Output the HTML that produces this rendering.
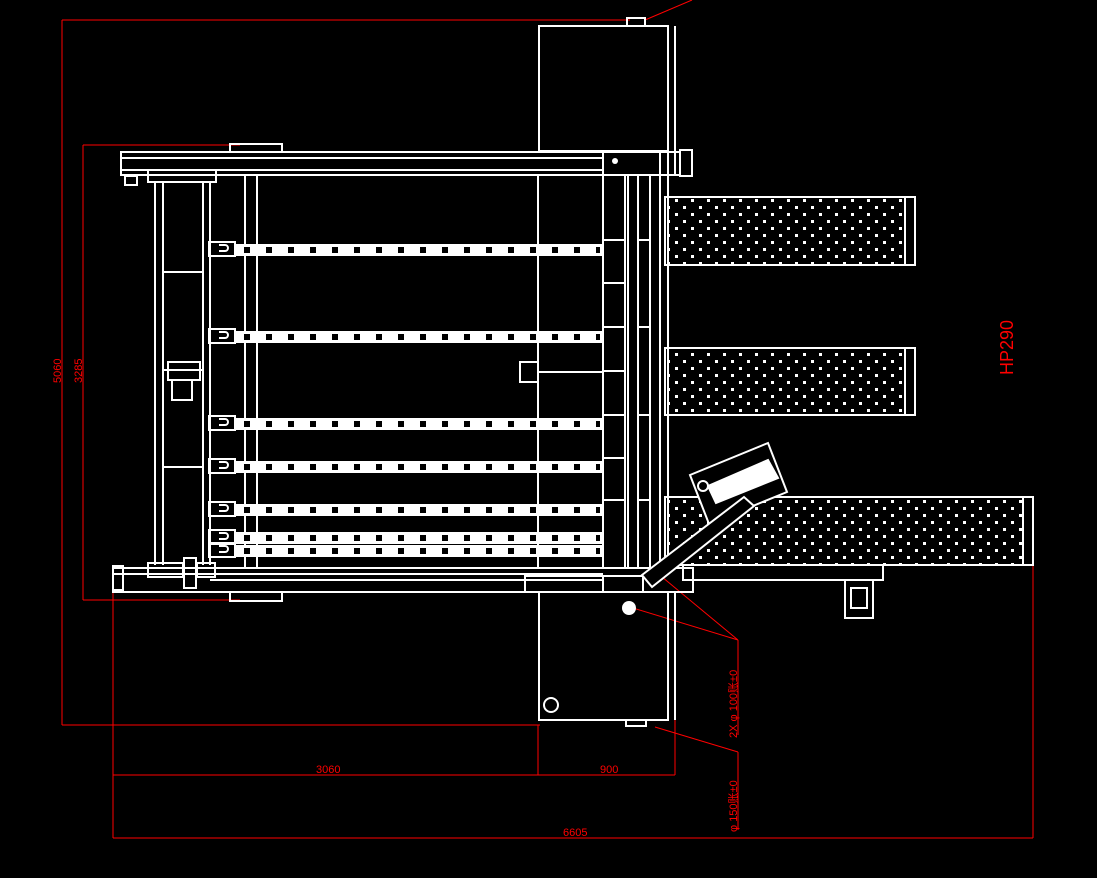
<!DOCTYPE html>
<html><head><meta charset="utf-8"><style>
html,body{margin:0;padding:0;background:#000;}
svg{display:block}
text{font-family:"Liberation Sans","Noto Sans CJK SC",sans-serif;fill:#f00}
</style></head><body>
<svg width="1097" height="878" viewBox="0 0 1097 878" xmlns="http://www.w3.org/2000/svg">
<defs>
<pattern id="dots" width="16" height="14" patternUnits="userSpaceOnUse">
<rect x="3" y="3" width="3" height="3" fill="#fff"/><rect x="11" y="10" width="3" height="3" fill="#fff"/>
</pattern>
<g id="rail">
<rect x="235" y="-6" width="368" height="12" fill="#fff"/>
<path d="M244 0 H600" stroke="#000" stroke-width="6" stroke-dasharray="6 16"/>
<rect x="209" y="-8" width="26" height="14" fill="none" stroke="#fff" stroke-width="2"/>
<path d="M219 -5 h6 a3 3 0 0 1 0 6 h-6" fill="none" stroke="#fff" stroke-width="2"/>
</g>
</defs>
<g fill="none" stroke="#f00" stroke-width="1" shape-rendering="crispEdges">
<path d="M62 20 H630 M62 20 V725 M62 725 H540 M83 145 H240 M83 145 V600 M83 600 H240"/>
<path d="M113 775 H675 M113 590 V838 M538 725 V775 M675 720 V775 M113 838 H1033 M1033 565 V838 M738 640 V735 M738 752 V830"/>
</g>
<path d="M645 20 L692 0 M633 608 L738 640 M650 567 L738 640 M655 727 L738 752" stroke="#f00" stroke-width="1" fill="none"/>
<text x="0" y="0" font-size="11" transform="translate(61,383) rotate(-90)">5060</text>
<text x="0" y="0" font-size="11" transform="translate(82,383) rotate(-90)">3285</text>
<text x="316" y="773" font-size="11">3060</text>
<text x="600" y="773" font-size="11">900</text>
<text x="563" y="836" font-size="11">6605</text>
<text x="0" y="0" font-size="11" transform="translate(737,738) rotate(-90)">2X φ 100账±0</text>
<text x="0" y="0" font-size="11" transform="translate(737,832) rotate(-90)">φ 150账±0</text>
<text x="0" y="0" font-size="18" transform="translate(1013,375) rotate(-90)">HP290</text>

<g fill="none" stroke="#fff" stroke-width="2">
<rect x="539" y="26" width="129" height="125"/>
<path d="M668 26 V175 M675 26 V175"/>
<rect x="627" y="18" width="18" height="8"/>
<rect x="121" y="152" width="482" height="23"/>
<path d="M121 158 H603 M121 170 H603"/>
<rect x="603" y="152" width="57" height="23"/>
<rect x="660" y="152" width="20" height="23"/>
<rect x="680" y="150" width="12" height="26"/>
<rect x="230" y="144" width="52" height="8"/>
<rect x="148" y="170" width="68" height="12"/>
<rect x="125" y="176" width="12" height="9"/>
<path d="M155 182 V565 M163 182 V565 M203 182 V565 M210 182 V565 M163 272 H203 M163 370 H203 M163 467 H203"/>
<rect x="168" y="362" width="32" height="18"/>
<rect x="172" y="380" width="20" height="20"/>
<path d="M245 175 V568 M257 175 V568 M538 175 V568"/>
<rect x="520" y="362" width="18" height="20"/>
<path d="M538 372 H603"/>
<rect x="603" y="175" width="22" height="393"/>
<rect x="628" y="175" width="10" height="393"/>
<rect x="638" y="175" width="12" height="393"/>
<path d="M660 175 V568 M668 175 V568"/>
<path d="M603 240 H625 M603 283 H625 M603 327 H625 M603 371 H625 M603 415 H625 M603 458 H625 M603 500 H625 M638 240 H650 M638 327 H650 M638 415 H650 M638 500 H650"/>
<rect x="113" y="568" width="580" height="24"/>
<path d="M113 574 H603 M210 580 H603"/>
<rect x="148" y="563" width="35" height="14"/>
<rect x="184" y="558" width="12" height="30"/>
<rect x="197" y="563" width="18" height="14"/>
<rect x="230" y="592" width="52" height="9"/>
<rect x="113" y="566" width="10" height="24"/>
<rect x="525" y="576" width="78" height="16"/>
<rect x="603" y="576" width="40" height="16"/>
<rect x="539" y="592" width="129" height="128"/>
<path d="M668 592 V720 M675 592 V720"/>
<circle cx="551" cy="705" r="7"/>
<rect x="626" y="720" width="20" height="6"/>
<rect x="665" y="197" width="240" height="68" fill="url(#dots)"/>
<rect x="905" y="197" width="10" height="68"/>
<rect x="665" y="348" width="240" height="67" fill="url(#dots)"/>
<rect x="905" y="348" width="10" height="67"/>
<rect x="665" y="497" width="358" height="68" fill="url(#dots)"/>
<rect x="1023" y="497" width="10" height="68"/>
<rect x="683" y="565" width="200" height="15"/>
<rect x="845" y="580" width="28" height="38"/>
<rect x="851" y="588" width="16" height="20"/>
<polygon points="690,475 768,443 787,492 709,524" fill="#000"/>
<polygon points="708,486 768,460 778,478 716,503" fill="#fff"/>
<polygon points="642,575 744,497 754,506 652,587" fill="#000"/>
</g>
<circle cx="629" cy="608" r="7" fill="#fff"/>
<circle cx="703" cy="486" r="5" fill="#000" stroke="#fff" stroke-width="2"/>
<circle cx="615" cy="161" r="3" fill="#fff"/>
<g>
<use href="#rail" y="250"/><use href="#rail" y="337"/><use href="#rail" y="424"/>
<use href="#rail" y="467"/><use href="#rail" y="510"/><use href="#rail" y="538"/><use href="#rail" y="551"/>
</g>
</svg>
</body></html>
